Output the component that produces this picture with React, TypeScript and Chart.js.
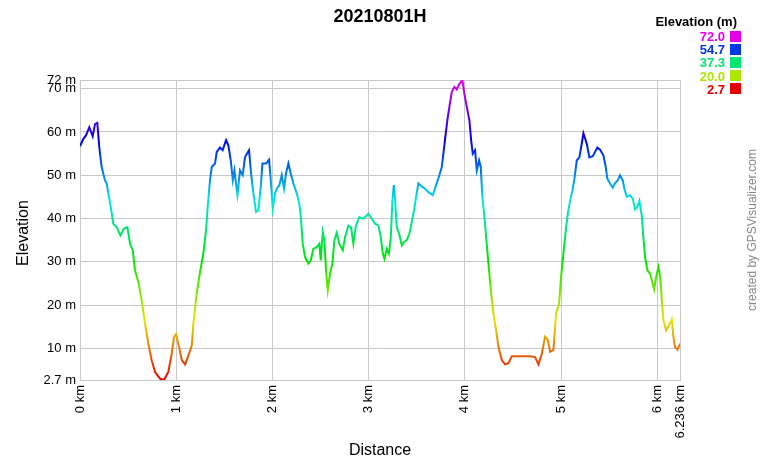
import React, { useEffect, useRef } from 'react';
import { Chart, registerables } from 'chart.js';

Chart.register(...registerables);

// ---- data ----
const chartTitle = '20210801H';
const distanceKm = [
  0, 0.035, 0.062, 0.097, 0.132, 0.156, 0.18, 0.2, 0.225, 0.26, 0.277, 0.319, 0.346, 0.381, 0.42, 0.457, 0.492,
  0.52, 0.548, 0.572, 0.607, 0.641, 0.676, 0.71, 0.745, 0.78, 0.832, 0.873, 0.918, 0.953, 0.977, 0.998, 1.03,
  1.058, 1.092, 1.127, 1.162, 1.178, 1.213, 1.247, 1.282, 1.31, 1.327, 1.351, 1.369, 1.403, 1.421, 1.455, 1.483,
  1.518, 1.542, 1.567, 1.588, 1.605, 1.636, 1.663, 1.691, 1.715, 1.757, 1.778, 1.802, 1.83, 1.854, 1.879, 1.896,
  1.934, 1.965, 1.983, 2.003, 2.027, 2.045, 2.072, 2.097, 2.121, 2.141, 2.166, 2.19, 2.218, 2.253, 2.28, 2.298,
  2.315, 2.339, 2.374, 2.398, 2.425, 2.461, 2.488, 2.502, 2.523, 2.54, 2.557, 2.575, 2.599, 2.623, 2.644, 2.668,
  2.695, 2.731, 2.755, 2.789, 2.817, 2.841, 2.869, 2.903, 2.945, 2.98, 2.997, 3.032, 3.067, 3.101, 3.126, 3.147,
  3.164, 3.189, 3.21, 3.23, 3.247, 3.262, 3.275, 3.293, 3.317, 3.345, 3.368, 3.396, 3.424, 3.448, 3.472, 3.493,
  3.517, 3.552, 3.586, 3.621, 3.666, 3.701, 3.735, 3.76, 3.777, 3.801, 3.818, 3.839, 3.864, 3.891, 3.916, 3.94,
  3.974, 3.995, 4.02, 4.047, 4.065, 4.082, 4.106, 4.124, 4.148, 4.165, 4.182, 4.2, 4.221, 4.245, 4.27, 4.297,
  4.325, 4.349, 4.384, 4.418, 4.453, 4.488, 4.54, 4.609, 4.678, 4.73, 4.765, 4.8, 4.834, 4.862, 4.886, 4.92,
  4.948, 4.979, 5.0, 5.024, 5.049, 5.07, 5.094, 5.118, 5.139, 5.163, 5.191, 5.215, 5.232, 5.25, 5.267, 5.294,
  5.33, 5.353, 5.377, 5.405, 5.44, 5.464, 5.481, 5.509, 5.537, 5.561, 5.589, 5.613, 5.641, 5.658, 5.683, 5.717,
  5.745, 5.769, 5.793, 5.814, 5.838, 5.855, 5.873, 5.897, 5.925, 5.949, 5.967, 5.988, 6.012, 6.03, 6.047, 6.064,
  6.092, 6.116, 6.151, 6.168, 6.185, 6.209, 6.236,
];
const elevationM = [
  56.7, 58.4, 59.2, 61.1, 59.0, 61.8, 62.1, 56.5, 51.9, 48.8, 48.1, 42.7, 38.8, 38.0, 36.1, 37.7, 38.0,
  34.2, 32.7, 28.0, 25.3, 21.1, 15.7, 11.1, 7.25, 4.55, 3.0, 2.7, 4.55, 8.8, 12.6, 13.3, 10.3,
  7.3, 6.3, 8.4, 10.7, 15.7, 22.7, 27.6, 31.9, 37.3, 42.7, 48.8, 51.9, 52.7, 55.4, 56.4, 55.8,
  58.1, 56.9, 53.4, 48.8, 51.1, 45.4, 51.1, 50.0, 54.2, 55.8, 50.4, 45.8, 41.5, 41.9, 47.3, 52.7,
  52.7, 53.6, 48.8, 42.3, 45.8, 46.9, 47.7, 50.0, 46.9, 50.4, 52.7, 50.4, 48.1, 45.8, 43.4, 39.6,
  34.2, 31.1, 29.6, 30.3, 33.0, 33.4, 34.2, 30.3, 36.9, 35.0, 28.0, 23.4, 27.3, 29.6, 35.0, 36.7,
  34.2, 32.7, 35.7, 38.4, 38.0, 34.2, 38.4, 40.3, 40.0, 40.7, 41.1, 40.0, 38.8, 38.4, 35.7, 31.9,
  30.7, 33.0, 31.9, 35.7, 44.2, 47.7, 44.2, 38.0, 36.5, 33.8, 34.6, 35.0, 36.5, 39.2, 41.9, 45.0,
  48.1, 47.4, 46.9, 46.1, 45.4, 47.7, 50.0, 51.9, 55.0, 59.6, 62.7, 65.8, 69.2, 70.4, 69.8, 71.0,
  72.0, 68.8, 65.8, 62.7, 58.1, 55.0, 55.8, 51.1, 53.4, 51.9, 45.0, 41.1, 35.7, 29.6, 23.4, 18.0,
  14.2, 10.3, 7.3, 6.3, 6.6, 8.2, 8.2, 8.2, 8.2, 8.0, 6.3, 8.8, 12.7, 11.9, 9.2, 9.6,
  18.0, 20.3, 26.5, 31.9, 37.3, 41.1, 44.2, 46.5, 49.2, 53.4, 54.2, 57.3, 59.7, 58.5, 57.3, 54.1,
  54.4, 55.4, 56.4, 55.9, 54.6, 51.9, 49.2, 48.1, 47.1, 48.2, 48.8, 50.0, 48.8, 46.9, 45.0, 45.4,
  44.6, 42.1, 42.7, 44.1, 40.7, 35.7, 31.1, 28.0, 27.3, 25.3, 23.6, 26.5, 28.8, 26.5, 21.1, 16.5,
  14.2, 15.1, 16.7, 12.6, 10.3, 9.7, 11.1,
];
const yTickValues = [2.7, 10, 20, 30, 40, 50, 60, 70, 72];
const xTickValues = [0, 1, 2, 3, 4, 5, 6, 6.236];
const legendValues = [72.0, 54.7, 37.3, 20.0, 2.7];
const yMin = 2.7;
const yMax = 72;
const xMax = 6.236;

const FONT = '"Liberation Sans", Arial, Helvetica, sans-serif';

function elevColor(v: number): string {
  const t = Math.max(0, Math.min(1, (v - yMin) / (yMax - yMin)));
  return `hsl(${t * 300}, 100%, 45%)`;
}

const decorPlugin = {
  id: 'decor',
  afterDraw(chart: any) {
    const c = chart.ctx as CanvasRenderingContext2D;
    c.save();
    // title
    c.fillStyle = '#000';
    c.font = `bold 18px ${FONT}`;
    c.textAlign = 'center';
    c.textBaseline = 'alphabetic';
    c.fillText(chartTitle, 380, 22);
    // legend
    c.font = `bold 13px ${FONT}`;
    c.textAlign = 'right';
    c.fillText('Elevation (m)', 737, 26);
    legendValues.forEach((v, i) => {
      const top = 30.7 + i * 13.1;
      const col = elevColor(v);
      c.fillStyle = col;
      c.fillText(v.toFixed(1), 725, top + 10.5);
      c.fillRect(730, Math.round(top), 11, 11);
    });
    // axis titles
    c.fillStyle = '#000';
    c.font = `16px ${FONT}`;
    c.textAlign = 'center';
    c.fillText('Distance', 380, 455);
    c.save();
    c.translate(28, 233);
    c.rotate(-Math.PI / 2);
    c.fillText('Elevation', 0, 0);
    c.restore();
    // credit
    c.save();
    c.fillStyle = '#888';
    c.font = `12px ${FONT}`;
    c.translate(756, 230);
    c.rotate(-Math.PI / 2);
    c.textAlign = 'center';
    c.fillText('created by GPSVisualizer.com', 0, 0);
    c.restore();
    c.restore();
  },
};

export default function App() {
  const ref = useRef<HTMLCanvasElement>(null);
  useEffect(() => {
    const points = distanceKm.map((d, i) => ({ x: d, y: elevationM[i] }));
    const chart = new Chart(ref.current as HTMLCanvasElement, {
      type: 'line',
      data: {
        datasets: [
          {
            data: points,
            pointRadius: 0,
            borderWidth: 2,
            tension: 0,
            fill: false,
            borderColor: (ctx: any) => {
              const ch = ctx.chart;
              if (!ch.chartArea || !ch.scales.y) return '#f00';
              const ys = ch.scales.y;
              const g = ch.ctx.createLinearGradient(0, ys.getPixelForValue(yMin), 0, ys.getPixelForValue(yMax));
              const n = 60;
              for (let i = 0; i <= n; i++) {
                g.addColorStop(i / n, `hsl(${(i / n) * 300}, 100%, 45%)`);
              }
              return g;
            },
          },
        ],
      },
      options: {
        animation: false,
        responsive: true,
        maintainAspectRatio: false,
        devicePixelRatio: 1,
        layout: { padding: { top: 80, right: 80, left: 0, bottom: 0 } },
        plugins: { legend: { display: false }, title: { display: false }, tooltip: { enabled: false } },
        scales: {
          x: {
            type: 'linear',
            min: 0,
            max: xMax,
            afterBuildTicks: (s: any) => {
              s.ticks = xTickValues.map((v) => ({ value: v }));
            },
            afterFit: (s: any) => {
              s.height = 80;
            },
            grid: { color: '#c8c8c8', drawTicks: false, lineWidth: 1 },
            border: { color: '#c8c8c8' },
            ticks: {
              autoSkip: false,
              maxRotation: 90,
              minRotation: 90,
              padding: 5,
              color: '#000',
              font: { family: FONT, size: 13 },
              callback: (v: any) => `${v} km`,
            },
          },
          y: {
            type: 'linear',
            min: yMin,
            max: yMax,
            afterBuildTicks: (s: any) => {
              s.ticks = yTickValues.map((v) => ({ value: v }));
            },
            afterFit: (s: any) => {
              s.width = 80;
            },
            grid: { color: '#c8c8c8', drawTicks: false, lineWidth: 1 },
            border: { color: '#c8c8c8' },
            ticks: {
              autoSkip: false,
              padding: 4,
              color: '#000',
              font: { family: FONT, size: 13 },
              callback: (v: any) => `${v} m`,
            },
          },
        },
      },
      plugins: [decorPlugin],
    });
    return () => chart.destroy();
  }, []);
  return (
    <div style={{ position: 'absolute', left: 0, top: 0, width: 760, height: 460, background: '#fff' }}>
      <canvas ref={ref} />
    </div>
  );
}
